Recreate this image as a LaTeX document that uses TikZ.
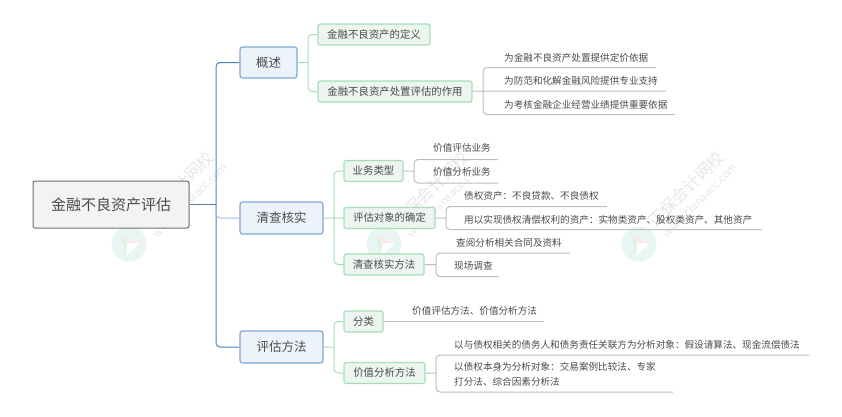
\documentclass[tikz,border=0pt]{standalone}
\usepackage{fontspec}
\setmainfont{Noto Sans CJK SC}
\definecolor{inkgrey}{HTML}{4A4A4A}
\definecolor{rootfill}{HTML}{F3F3F3}
\definecolor{rootedge}{HTML}{6E6E6E}
\definecolor{bluefill}{HTML}{EDF3FB}
\definecolor{blueedge}{HTML}{7FA8D6}
\definecolor{trunkblue}{HTML}{4F81B8}
\definecolor{stubblue}{HTML}{9CBEE2}
\definecolor{greenfill}{HTML}{ECF5EF}
\definecolor{greenedge}{HTML}{A6DDB8}
\definecolor{leafgrey}{HTML}{BDBDBD}
\definecolor{markgrey}{HTML}{E6E6E6}
\definecolor{marktint}{HTML}{E8F6F3}
\definecolor{markpink}{HTML}{FBEBE6}
\definecolor{markgreen}{HTML}{DDF1E4}
\tikzset{
    rootbox/.style={draw=rootedge,line width=1pt,fill=rootfill,rounded corners=2pt,inner sep=0pt,text=inkgrey,font=\fontsize{15}{18}\selectfont},
    branchbox/.style={draw=blueedge,line width=1.2pt,fill=bluefill,rounded corners=2.5pt,inner sep=0pt,text=inkgrey,font=\fontsize{12.5}{15}\selectfont},
    subbox/.style={draw=greenedge,line width=1.1pt,fill=greenfill,rounded corners=2pt,inner sep=0pt,text=inkgrey,font=\fontsize{10.4}{13}\selectfont},
    leaftext/.style={anchor=west,inner sep=0pt,text=inkgrey,font=\fontsize{9.6}{14.5}\selectfont},
    trunkline/.style={draw=trunkblue,line width=1pt,rounded corners=4pt},
    greenline/.style={draw=greenedge,line width=1pt,rounded corners=4pt},
    leafline/.style={draw=leafgrey,line width=1pt,rounded corners=4pt},
}
\begin{document}
\begin{tikzpicture}[x=1pt,y=-1pt]
    \useasboundingbox (0,0) rectangle (842,416);
    \foreach \i/\mx in {1/129,2/384,3/639}
    {
        \fill[marktint] (\mx,244) circle (17.5);
        \fill[white] (\mx-8,235) -- (\mx+11,243) -- (\mx-3,256) -- cycle;
        \fill[markpink] (\mx-8,235) -- (\mx+11,243) -- (\mx-2,243) -- cycle;
        \fill[markgreen] (\mx-8,235) -- (\mx-2,243) -- (\mx-3,256) -- cycle;
        \node[markgrey,rotate=45,inner sep=0pt,font=\fontsize{16.5}{18}\selectfont] (mark\i) at (\mx+47,189) {正保会计网校};
        \node[markgrey,rotate=45,inner sep=0pt,font=\fontsize{11}{12}\selectfont] (url\i) at (\mx+61,200) {www.chinaacc.com};
    }
    \node[rootbox,minimum width=156pt,minimum height=47pt] (root) at (111,204.5) {金融不良资产评估};
    \node[branchbox,minimum width=57pt,minimum height=31pt] (gaishu) at (268.5,62.5) {概述};
    \node[branchbox,minimum width=83pt,minimum height=32pt] (qingcha) at (281.5,218) {清查核实};
    \node[branchbox,minimum width=83pt,minimum height=32pt] (pinggu) at (281.5,347) {评估方法};
    \node[subbox,minimum width=112pt,minimum height=21pt] (dingyi) at (374,34.5) {金融不良资产的定义};
    \node[subbox,minimum width=154pt,minimum height=21pt] (zuoyong) at (395,91.5) {金融不良资产处置评估的作用};
    \node[subbox,minimum width=59pt,minimum height=21pt] (yewu) at (373.5,171) {业务类型};
    \node[subbox,minimum width=91pt,minimum height=21pt] (duixiang) at (389.5,218) {评估对象的确定};
    \node[subbox,minimum width=80pt,minimum height=21pt] (fangfa) at (384,264.5) {清查核实方法};
    \node[subbox,minimum width=39pt,minimum height=21pt] (fenlei) at (363.5,321.5) {分类};
    \node[subbox,minimum width=81pt,minimum height=21pt] (fenxi) at (384.5,373) {价值分析方法};
    \node[leaftext] (z1) at (504,58) {为金融不良资产处置提供定价依据};
    \node[leaftext] (z2) at (504,81) {为防范和化解金融风险提供专业支持};
    \node[leaftext] (z3) at (504,105) {为考核金融企业经营业绩提供重要依据};
    \node[leaftext] (y1) at (433,148) {价值评估业务};
    \node[leaftext] (y2) at (433,172) {价值分析业务};
    \node[leaftext] (d1) at (464,196) {债权资产：不良贷款、不良债权};
    \node[leaftext] (d2) at (464,220) {用以实现债权清偿权利的资产：实物类资产、股权类资产、其他资产};
    \node[leaftext] (f1) at (456,243) {查阅分析相关合同及资料};
    \node[leaftext] (f2) at (454,266) {现场调查};
    \node[leaftext] (l1) at (412,311) {价值评估方法、价值分析方法};
    \node[leaftext] (x1) at (454,345) {以与债权相关的债务人和债务责任关联方为分析对象：假设请算法、现金流偿债法};
    \node[leaftext,align=left] (x2) at (454,374.5) {以债权本身为分析对象：交易案例比较法、专家\\打分法、综合因素分析法};
    \coordinate (trunk) at (216,204.5);
    \draw[draw=trunkblue,line width=1.6pt] (root) -- (trunk);
    \draw[trunkline] (trunk) |- (gaishu);
    \draw[trunkline] (trunk) |- (pinggu);
    \draw[draw=stubblue,line width=1pt,rounded corners=4pt] (trunk) |- (qingcha);
    \coordinate (gjoin) at (308,62.5);
    \coordinate (qjoin) at (334,218);
    \coordinate (pjoin) at (334,347);
    \draw[greenline]
    (gaishu) -- (gjoin)
    (gjoin) |- (dingyi)
    (gjoin) |- (zuoyong)
    ;
    \draw[greenline]
    (qingcha) -- (qjoin)
    (qjoin) |- (yewu)
    (qjoin) |- (fangfa)
    (qjoin) -- (duixiang)
    ;
    \draw[greenline]
    (pinggu) -- (pjoin)
    (pjoin) |- (fenlei)
    (pjoin) |- (fenxi)
    ;
    \coordinate (zjoin) at (483,91);
    \coordinate (zend1) at (656,67.5);
    \coordinate (zend2) at (666,91);
    \coordinate (zend3) at (675,114.5);
    \draw[leafline]
    (zuoyong.east |- zjoin) -- (zend2)
    (zjoin) |- (zend1)
    (zjoin) |- (zend3)
    ;
    \coordinate (yjoin) at (414,171);
    \coordinate (yend1) at (498,159.5);
    \coordinate (yend2) at (498,183);
    \draw[leafline]
    (yewu) -- (yjoin)
    (yjoin) |- (yend1)
    (yjoin) |- (yend2)
    ;
    \coordinate (djoin) at (446,218);
    \coordinate (dend1) at (607,206.5);
    \coordinate (dend2) at (762,229.5);
    \draw[leafline]
    (duixiang) -- (djoin)
    (djoin) |- (dend1)
    (djoin) |- (dend2)
    ;
    \coordinate (fjoin) at (436,264.5);
    \coordinate (fend1) at (570,253);
    \coordinate (fend2) at (499,276.5);
    \draw[leafline]
    (fangfa) -- (fjoin)
    (fjoin) |- (fend1)
    (fjoin) |- (fend2)
    ;
    \coordinate (lend) at (544,321);
    \draw[leafline] (fenlei.east |- lend) -- (lend);
    \coordinate (xjoin) at (436,373);
    \coordinate (xend1) at (809,355);
    \coordinate (xend2) at (673,392);
    \draw[leafline]
    (fenxi) -- (xjoin)
    (xjoin) |- (xend1)
    (xjoin) |- (xend2)
    ;
\end{tikzpicture}
\end{document}
